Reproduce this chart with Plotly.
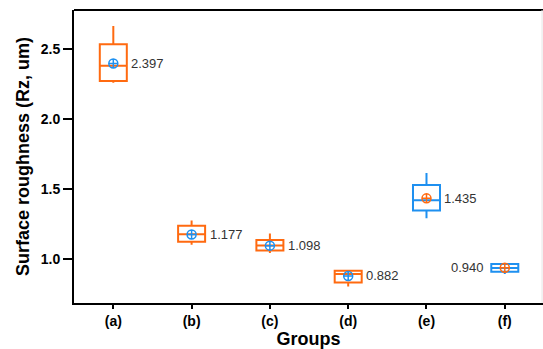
import plotly.graph_objects as go

# Surface roughness summary per group
groups = ["(a)", "(b)", "(c)", "(d)", "(e)", "(f)"]
lower_whisker = [2.260, 1.104, 1.045, 0.807, 1.294, 0.895]
q1 = [2.272, 1.125, 1.063, 0.835, 1.348, 0.912]
median = [2.381, 1.180, 1.099, 0.896, 1.422, 0.938]
q3 = [2.533, 1.239, 1.139, 0.919, 1.531, 0.967]
upper_whisker = [2.664, 1.277, 1.185, 0.922, 1.615, 0.969]
mean = [2.397, 1.177, 1.098, 0.882, 1.435, 0.940]

ORANGE = "#FF6A10"
BLUE = "#1E90F0"
box_colors = [ORANGE, ORANGE, ORANGE, ORANGE, BLUE, BLUE]
mean_colors = [BLUE, BLUE, BLUE, BLUE, ORANGE, ORANGE]
FONT = "Arial, Liberation Sans, sans-serif"

fig = go.Figure()
for i, g in enumerate(groups):
    fig.add_trace(go.Box(
        x=[i], q1=[q1[i]], median=[median[i]], q3=[q3[i]],
        lowerfence=[lower_whisker[i]], upperfence=[upper_whisker[i]],
        width=0.345, whiskerwidth=0,
        line=dict(color=box_colors[i], width=2),
        fillcolor="rgba(255,255,255,0)",
        boxpoints=False, showlegend=False, hoverinfo="skip",
    ))
    fig.add_trace(go.Scatter(
        x=[i], y=[mean[i]], mode="markers",
        marker=dict(symbol="circle-cross-open", size=9,
                    color=mean_colors[i], line=dict(width=1.5, color=mean_colors[i])),
        showlegend=False, hoverinfo="skip",
    ))
    right_side = i < len(groups) - 1
    fig.add_annotation(
        x=i, y=mean[i], text=f"{mean[i]:.3f}", showarrow=False,
        xanchor="left" if right_side else "right",
        xshift=16 if right_side else -19,
        font=dict(family=FONT, size=13, color="#333333"),
    )

# top frame line and faint right edge
fig.add_shape(type="line", xref="paper", yref="paper", x0=0, x1=1, y0=1, y1=1,
              line=dict(color="black", width=2))
fig.add_shape(type="line", xref="paper", yref="paper", x0=0.998, x1=0.998, y0=0, y1=1,
              line=dict(color="#e6e6e6", width=1))

fig.update_layout(
    width=543, height=349,
    margin=dict(l=74, r=0, t=10, b=46),
    plot_bgcolor="white", paper_bgcolor="white",
    font=dict(family=FONT, color="black"),
)
fig.update_xaxes(
    range=[-0.502, 5.488], tickmode="array",
    tickvals=list(range(len(groups))), ticktext=groups,
    showgrid=False, zeroline=False,
    showline=True, linecolor="black", linewidth=2,
    ticks="outside", ticklen=4, tickwidth=2, tickcolor="black",
    tickfont=dict(family=FONT, size=14, weight="bold"),
    title=dict(text="Groups", font=dict(family=FONT, size=18, weight="bold"), standoff=4),
)
fig.update_yaxes(
    range=[0.689, 2.778], tickvals=[1.0, 1.5, 2.0, 2.5],
    ticktext=["1.0", "1.5", "2.0", "2.5"],
    showgrid=False, zeroline=False,
    showline=True, linecolor="black", linewidth=2,
    ticks="outside", ticklen=9, tickwidth=2, tickcolor="black",
    tickfont=dict(family=FONT, size=14, weight="bold"),
    title=dict(text="Surface roughness (Rz, um)",
               font=dict(family=FONT, size=18, weight="bold"), standoff=6),
)

fig.write_html("out.html")
